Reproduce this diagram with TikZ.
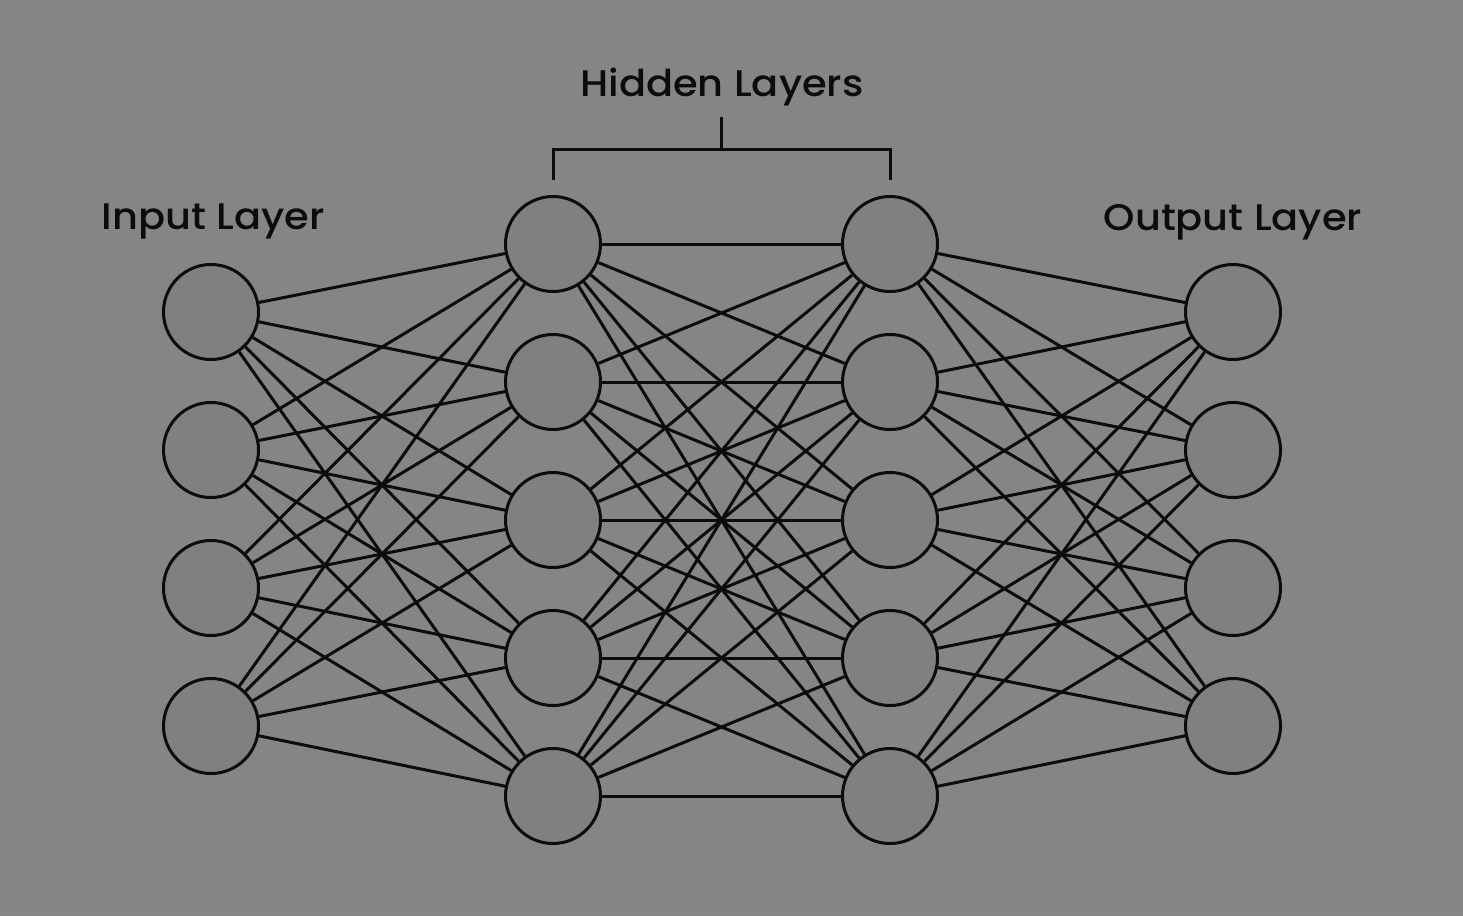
\documentclass[tikz,border=0pt]{standalone}
\usepackage{fontspec}
\setmainfont{Poppins Medium}[FakeStretch=1.08]
\usepackage{tikz}
\usetikzlibrary{positioning, calc}
\definecolor{bggray}{RGB}{133,133,133}
\definecolor{nodegray}{RGB}{128,128,128}
\definecolor{inkblack}{RGB}{12,12,12}

\begin{document}
\begin{tikzpicture}[x=1pt, y=-1pt,
    neuron/.style={circle, draw=inkblack, fill=nodegray, line width=3pt, minimum size=95pt, inner sep=0pt},
    link/.style={draw=inkblack, line width=3pt},
    layerlabel/.style={font=\fontsize{37}{40}\selectfont, text=inkblack, anchor=base, inner sep=0pt}]
    \fill[bggray] (0,0) rectangle (1463,916);
    \useasboundingbox (0,0) rectangle (1463,916);

    % layers
    \foreach \i/\y in {1/312, 2/450, 3/588, 4/726} {
        \node[neuron] (in\i) at (211,\y) {};
        \node[neuron] (out\i) at (1233,\y) {};
    }
    \foreach \i/\y in {1/244, 2/382, 3/520, 4/658, 5/796} {
        \node[neuron] (ha\i) at (553,\y) {};
        \node[neuron] (hb\i) at (890,\y) {};
    }

    % connections
    \foreach \i in {1,...,4}
        \foreach \j in {1,...,5} {
            \draw[link] (in\i) -- (ha\j);
            \draw[link] (hb\j) -- (out\i);
        }
    \foreach \i in {1,...,5}
        \foreach \j in {1,...,5}
            \draw[link] (ha\i) -- (hb\j);

    % labels
    \node[layerlabel] (inlabel) at (213,229) {Input Layer};
    \node[layerlabel] (outlabel) at (1233,230) {Output Layer};
    \node[layerlabel] (hidlabel) at (722,96) {Hidden Layers};

    % bracket
    \coordinate (bl) at ([yshift=15pt]ha1.north);
    \coordinate (br) at ([yshift=15pt]hb1.north);
    \coordinate (bmid) at ($(bl)!0.5!(br)+(0,-31)$);
    \coordinate (btop) at ($(bmid)+(0,-32)$);
    \draw[link] (bl) -- ++(0,-31) -| (br);
    \draw[link] (bmid) -- (btop);
\end{tikzpicture}
\end{document}
